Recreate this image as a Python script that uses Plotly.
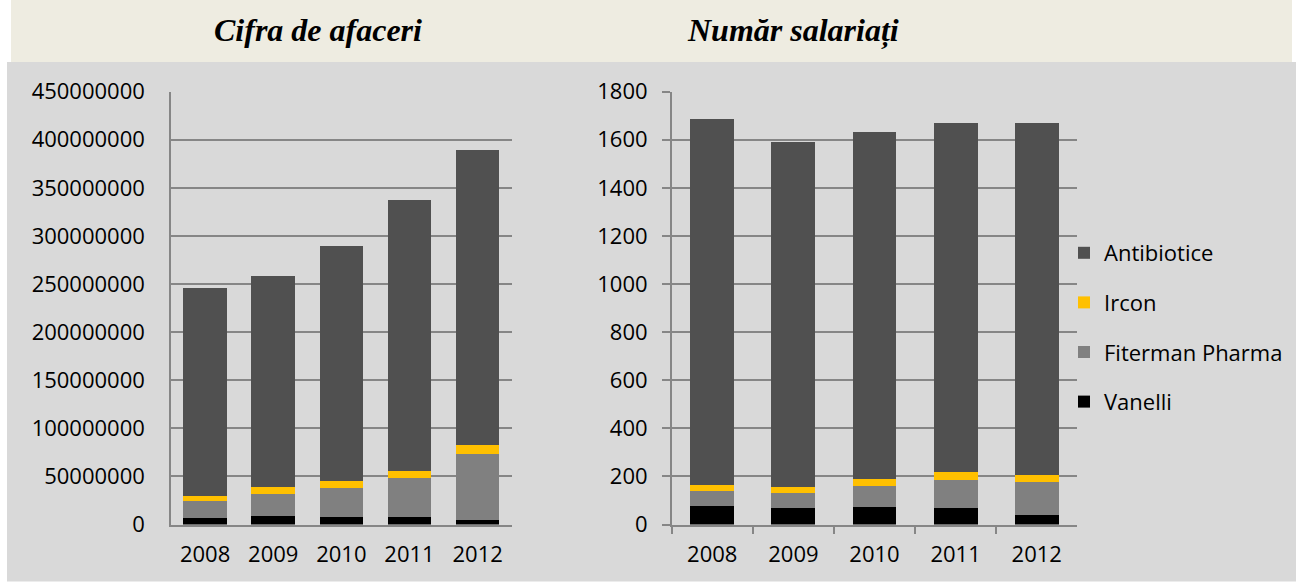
import plotly.graph_objects as go

years = ["2008", "2009", "2010", "2011", "2012"]

# Cifra de afaceri (lei)
vanelli_ca = [6.9e6, 8.9e6, 8.3e6, 7.9e6, 4.8e6]
fiterman_ca = [18.0e6, 22.9e6, 29.7e6, 40.5e6, 68.6e6]
ircon_ca = [4.8e6, 7.0e6, 7.3e6, 7.0e6, 9.0e6]
antibiotice_ca = [215.8e6, 219.8e6, 244.0e6, 282.5e6, 306.9e6]

# Număr salariați
vanelli_ns = [78, 67, 71, 67, 39]
fiterman_ns = [63, 63, 91, 120, 137]
ircon_ns = [23, 27, 28, 30, 30]
antibiotice_ns = [1524, 1432, 1443, 1453, 1465]

series_names = ["Vanelli", "Fiterman Pharma", "Ircon", "Antibiotice"]
colors = ["#000000", "#808080", "#FFC000", "#505050"]
legend_ranks = [4, 3, 2, 1]

left_ticks = [0, 50000000, 100000000, 150000000, 200000000, 250000000,
              300000000, 350000000, 400000000, 450000000]
right_ticks = [0, 200, 400, 600, 800, 1000, 1200, 1400, 1600, 1800]

W, H = 1296, 582
FONT = "Open Sans"
TICK = 22

fig = go.Figure()

left_data = [vanelli_ca, fiterman_ca, ircon_ca, antibiotice_ca]
right_data = [vanelli_ns, fiterman_ns, ircon_ns, antibiotice_ns]

for name, col, vals in zip(series_names, colors, left_data):
    fig.add_trace(go.Bar(x=years, y=vals, name=name, width=0.64,
                         marker=dict(color=col, line=dict(width=0)),
                         xaxis="x", yaxis="y", showlegend=False, legendgroup=name))
for name, col, vals, rk in zip(series_names, colors, right_data, legend_ranks):
    fig.add_trace(go.Bar(x=years, y=vals, name=name, width=0.54,
                         marker=dict(color=col, line=dict(width=0)),
                         xaxis="x2", yaxis="y2", showlegend=True, legendgroup=name, legendrank=rk))

def px_x(p):
    return p / W

def px_y(p):
    return 1 - p / H

ytop, ybot = px_y(91.7), px_y(524.5)

fig.update_layout(
    width=W, height=H,
    autosize=False,
    margin=dict(l=0, r=0, t=0, b=0, pad=0, autoexpand=False),
    paper_bgcolor="white",
    plot_bgcolor="white",
    barmode="stack",
    font=dict(family=FONT, size=TICK, color="black"),
    xaxis=dict(domain=[px_x(171), px_x(511.7)], anchor="y", showline=True, linecolor="#868686",
               linewidth=1.5, ticks="", tickfont=dict(size=TICK), ticklabelstandoff=9,
               showgrid=False, fixedrange=True, automargin=False),
    yaxis=dict(domain=[ybot, ytop], anchor="x", range=[0, 450000000], tickvals=left_ticks,
               ticktext=[str(v) for v in left_ticks], showline=True, linecolor="#868686",
               linewidth=1.5, gridcolor="#868686", gridwidth=1.5, ticks="",
               tickfont=dict(size=TICK), ticklabelstandoff=20, zeroline=False, fixedrange=True,
               automargin=False),
    xaxis2=dict(domain=[px_x(671.7), px_x(1077.3)], anchor="y2", showline=True, linecolor="#868686",
                linewidth=1.5, ticks="outside", tickson="boundaries", ticklen=8, tickcolor="#868686",
                tickwidth=1.5, tickfont=dict(size=TICK), ticklabelstandoff=9, showgrid=False,
                fixedrange=True, automargin=False),
    yaxis2=dict(domain=[ybot, ytop], anchor="x2", range=[0, 1800], tickvals=right_ticks,
                ticktext=[str(v) for v in right_ticks], showline=True, linecolor="#868686",
                linewidth=1.5, gridcolor="#868686", gridwidth=1.5, ticks="outside", ticklen=8,
                tickcolor="#868686", tickwidth=1.5, tickfont=dict(size=TICK), ticklabelstandoff=10,
                zeroline=False, fixedrange=True, automargin=False),
    legend=dict(x=px_x(1064), y=px_y(232), xanchor="left", yanchor="top",
                traceorder="grouped", tracegroupgap=18, bgcolor="rgba(0,0,0,0)",
                font=dict(size=TICK, family=FONT), itemclick=False, itemdoubleclick=False),
    shapes=[
        dict(type="rect", xref="paper", yref="paper", x0=px_x(11), x1=px_x(1292), y0=px_y(62), y1=1,
             fillcolor="#EEECE1", line=dict(width=0), layer="below"),
        dict(type="rect", xref="paper", yref="paper", x0=px_x(7), x1=1, y0=px_y(581.5), y1=px_y(62),
             fillcolor="#D9D9D9", line=dict(width=0), layer="below"),
    ],
    annotations=[
        dict(text="<b><i>Cifra de afaceri</i></b>", xref="paper", yref="paper", x=px_x(318), y=px_y(30),
             xanchor="center", yanchor="middle", showarrow=False,
             font=dict(family="Liberation Serif", size=32, color="black")),
        dict(text="<b><i>Număr salariați</i></b>", xref="paper", yref="paper", x=px_x(793), y=px_y(30),
             xanchor="center", yanchor="middle", showarrow=False,
             font=dict(family="Liberation Serif", size=32, color="black")),
    ],
)

post = (
    "document.documentElement.style.margin='0';"
    "document.documentElement.style.padding='0';"
    "document.body.style.margin='0';"
    "document.body.style.padding='0';"
    "document.body.style.overflow='hidden';"
    "var gd=document.getElementsByClassName('plotly-graph-div')[0];"
    "gd.style.position='fixed';gd.style.left='0px';gd.style.top='0px';"
)

fig.write_html("out.html", config={"displayModeBar": False}, post_script=post)
